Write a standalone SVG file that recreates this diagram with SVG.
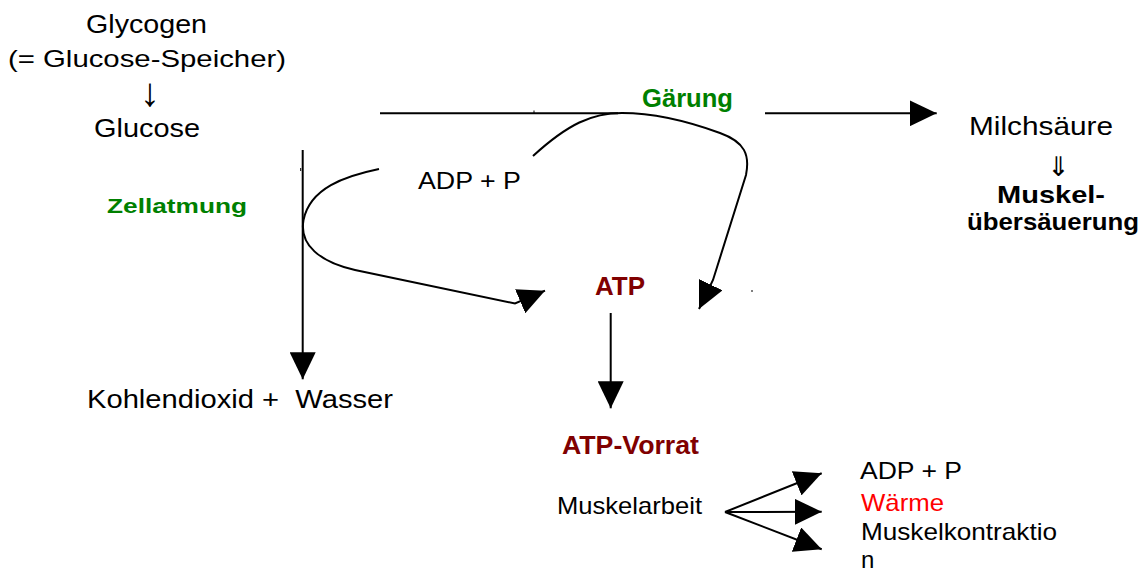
<svg xmlns="http://www.w3.org/2000/svg" width="1147" height="572" viewBox="0 0 1147 572">
  <style>
    text { font-family: "Liberation Sans", Arial, sans-serif; fill: #000; }
    .b { font-weight: bold; }
    .green { fill: #008000; font-weight: bold; }
    .atp { fill: #800000; font-weight: bold; }
    .red { fill: #ff0000; }
    .sym { font-family: "DejaVu Sans", sans-serif; }
    .wire { fill: none; stroke: #000; stroke-width: 2; }
    .tick { fill: none; stroke: #000; stroke-width: 1; }
  </style>
  <defs>
    <marker id="head" markerUnits="userSpaceOnUse" viewBox="0 0 27 26" refX="27" refY="13" markerWidth="27" markerHeight="26" orient="auto">
      <path d="M0,0 L27,13 L0,26 z" fill="#000"/>
    </marker>
  </defs>

  <rect width="1147" height="572" fill="#fff"/>

  <!-- connectors -->
  <g id="connectors">
    <!-- Glucose to Gärung, plain line -->
    <path class="wire" d="M380,113.3 L618,113.3"/>
    <!-- Gärung to Milchsäure -->
    <path class="wire" d="M765,113.3 L936.7,113.3" marker-end="url(#head)"/>
    <!-- Gärung loop: ADP + P to ATP -->
    <path class="wire" d="M533,156 C568,124 592,113 622,113 C655,113 690,122 720,133 C745,142 750,155 746,175 L713,280 L699,309" marker-end="url(#head)"/>
    <!-- Zellatmung: Glucose down to Kohlendioxid + Wasser -->
    <path class="wire" d="M302.7,150 L302.7,379.3" marker-end="url(#head)"/>
    <!-- Zellatmung loop: ADP + P to ATP -->
    <path class="wire" d="M379,169 C345,176 310,188 303.5,220 C299,245 320,262 355,270 L515,303.5 L545,290.7" marker-end="url(#head)"/>
    <!-- ATP to ATP-Vorrat -->
    <path class="wire" d="M610.7,313 L610.7,408.3" marker-end="url(#head)"/>
    <!-- Muskelarbeit fan -->
    <path class="wire" d="M725,512 L821.7,473.3" marker-end="url(#head)"/>
    <path class="wire" d="M725,512 L821.7,511.7" marker-end="url(#head)"/>
    <path class="wire" d="M725,512 L821.7,549.3" marker-end="url(#head)"/>
    <!-- stray stubs -->
    <path class="tick" d="M534,110.5 L534,113"/>
    <path class="tick" d="M752,290 L752,292"/>
    <path class="tick" d="M300.7,168 L300.7,171"/>
  </g>

  <g id="glycogen">
    <text x="86" y="33" font-size="25" textLength="121" lengthAdjust="spacingAndGlyphs">Glycogen</text>
    <text x="8" y="67" font-size="24" textLength="278" lengthAdjust="spacingAndGlyphs">(= Glucose-Speicher)</text>
    <text x="150" y="106" font-size="40" text-anchor="middle">↓</text>
  </g>

  <g id="glucose">
    <text x="94" y="137" font-size="26" textLength="106" lengthAdjust="spacingAndGlyphs">Glucose</text>
  </g>

  <g id="zellatmung">
    <text class="green" x="107" y="213" font-size="21" textLength="140" lengthAdjust="spacingAndGlyphs">Zellatmung</text>
  </g>

  <g id="gaerung">
    <text class="green" x="642" y="107" font-size="25" textLength="91" lengthAdjust="spacingAndGlyphs">Gärung</text>
  </g>

  <g id="adp-p">
    <text x="418" y="189" font-size="23" textLength="103" lengthAdjust="spacingAndGlyphs">ADP + P</text>
  </g>

  <g id="atp">
    <text class="atp" x="595" y="295" font-size="25" textLength="50" lengthAdjust="spacingAndGlyphs">ATP</text>
  </g>

  <g id="milchsaeure">
    <text x="969" y="135" font-size="26" textLength="144" lengthAdjust="spacingAndGlyphs">Milchsäure</text>
    <text class="sym" x="1058.5" y="176" font-size="27" text-anchor="middle">⇓</text>
  </g>

  <g id="uebersaeuerung">
    <text class="b" x="997" y="203" font-size="24" textLength="108" lengthAdjust="spacingAndGlyphs">Muskel-</text>
    <text class="b" x="967" y="230" font-size="24" textLength="172" lengthAdjust="spacingAndGlyphs">übersäuerung</text>
  </g>

  <g id="co2-wasser">
    <text x="87" y="408" font-size="25" textLength="306" lengthAdjust="spacingAndGlyphs" xml:space="preserve">Kohlendioxid +  Wasser</text>
  </g>

  <g id="atp-vorrat">
    <text class="atp" x="562" y="454" font-size="26" textLength="137" lengthAdjust="spacingAndGlyphs">ATP-Vorrat</text>
  </g>

  <g id="muskelarbeit">
    <text x="557" y="514" font-size="24" textLength="145" lengthAdjust="spacingAndGlyphs">Muskelarbeit</text>
  </g>

  <g id="produkte">
    <text x="860" y="479" font-size="23" textLength="102" lengthAdjust="spacingAndGlyphs">ADP + P</text>
    <text class="red" x="861" y="511" font-size="24" textLength="83" lengthAdjust="spacingAndGlyphs">Wärme</text>
    <text x="861" y="540" font-size="24" textLength="196" lengthAdjust="spacingAndGlyphs">Muskelkontraktio</text>
    <text x="861" y="568" font-size="24">n</text>
  </g>
</svg>
